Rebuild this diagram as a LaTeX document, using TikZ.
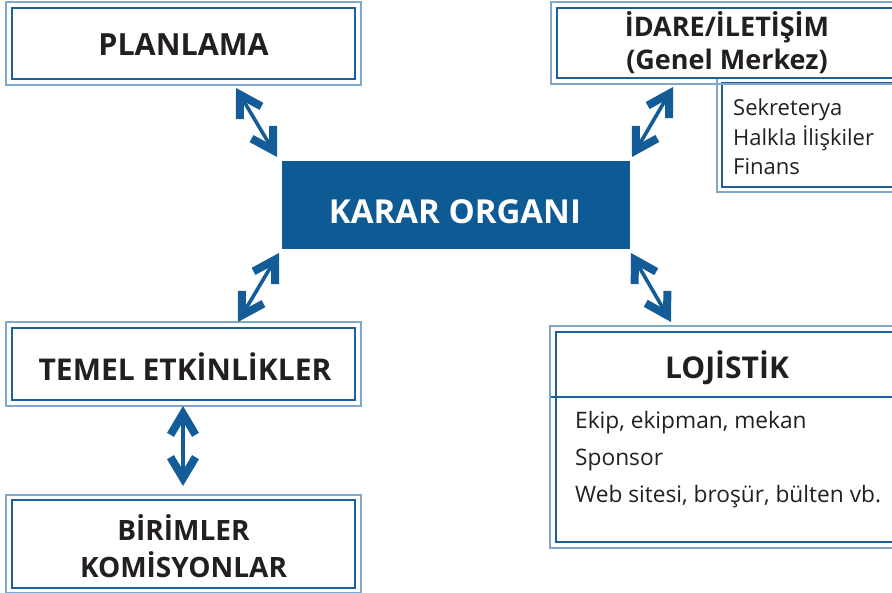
\documentclass[tikz,border=0pt]{standalone}
\usepackage{fontspec}
\setmainfont{Open Sans}
\usetikzlibrary{arrows.meta}
\definecolor{boxlight}{HTML}{7FA7CB}
\definecolor{boxdark}{HTML}{1F5F98}
\definecolor{karar}{HTML}{0E5A95}
\definecolor{arrowblue}{HTML}{135C97}
\definecolor{txt}{HTML}{231F20}
\tikzset{
  innerbox/.style={draw=boxdark, line width=1.3pt, rectangle, inner sep=0pt, text=txt},
  outerl/.style={draw=boxlight, line width=1.8pt},
  bigtxt/.style={font=\fontsize{31}{38}\selectfont\bfseries, text=txt, inner sep=0pt},
  midtxt/.style={font=\fontsize{27}{33}\selectfont\bfseries, text=txt, inner sep=0pt, align=center},
  smalltxt/.style={font=\fontsize{22}{29.5}\selectfont, text=txt, inner sep=0pt, align=left},
  dblarrow/.style={draw=arrowblue, line width=3.6pt,
    {Straight Barb[length=21pt,width=25pt,line width=8pt]}-{Straight Barb[length=21pt,width=25pt,line width=8pt]}}
}
\begin{document}
\begin{tikzpicture}[x=1pt,y=-1pt]
\useasboundingbox (0,0) rectangle (892,593);
\clip (0,0) rectangle (892,593);
% PLANLAMA
\node[innerbox, minimum width=343pt, minimum height=71pt] (plan) at (183.5,43.5) {};
\draw[outerl] ([shift={(-5,-5)}]plan.north west) rectangle ([shift={(5,5)}]plan.south east);
\node[bigtxt, font=\fontsize{30.5}{38}\selectfont\bfseries] (plant) at (183.5,45) {PLANLAMA};
% Sekreterya box
\node[innerbox, minimum width=190pt, minimum height=104pt] (sek) at (817,135) {};
\draw[outerl] ([shift={(-4,-5)}]sek.north west) rectangle ([shift={(4,4)}]sek.south east);
\node[smalltxt, anchor=north west] (sekt) at (733,99) {Sekreterya\\Halkla İlişkiler\\Finans};
% IDARE
\node[innerbox, fill=white, minimum width=360pt, minimum height=70pt] (idare) at (737,43) {};
\draw[outerl] ([shift={(-5,-5)}]idare.north west) rectangle ([shift={(5,5)}]idare.south east);
\node[midtxt] (idaret) at (727,43) {İDARE/İLETİŞİM\\(Genel Merkez)};
% KARAR ORGANI
\node[rectangle, fill=karar, minimum width=348pt, minimum height=88pt, inner sep=0pt] (karar) at (456,205) {};
\node[bigtxt, text=white, font=\fontsize{33}{38}\selectfont\bfseries] (karart) at (455,212) {KARAR ORGANI};
% TEMEL ETKINLIKLER
\node[innerbox, minimum width=343pt, minimum height=72pt] (temel) at (183.5,364) {};
\draw[outerl] ([shift={(-5,-5)}]temel.north west) rectangle ([shift={(5,5)}]temel.south east);
\node[bigtxt, font=\fontsize{30}{38}\selectfont\bfseries] (temelt) at (185,367) {TEMEL ETKİNLİKLER};
% BIRIMLER
\node[innerbox, minimum width=343pt, minimum height=88pt] (bir) at (183.5,544) {};
\draw[outerl] ([shift={(-5,-4)}]bir.north west) rectangle ([shift={(5,4)}]bir.south east);
\node[midtxt, font=\fontsize{28}{37}\selectfont\bfseries] (birt) at (183.5,546) {BİRİMLER\\KOMİSYONLAR};
% LOJISTIK
\node[innerbox, minimum width=360pt, minimum height=210pt] (loj) at (736,437) {};
\draw[outerl] ([shift={(-5,-5)}]loj.north west) rectangle ([shift={(5,5)}]loj.south east);
\coordinate (lojdl) at (551,397);
\coordinate (lojdr) at (920,397);
\draw[draw=boxdark, line width=1.3pt] (lojdl) -- (lojdr);
\node[bigtxt, font=\fontsize{30}{38}\selectfont\bfseries] (lojt) at (727,368) {LOJİSTİK};
\node[smalltxt, anchor=north west, font=\fontsize{22.7}{37}\selectfont] (lojitems) at (575,411) {Ekip, ekipman, mekan\\Sponsor\\Web sitesi, broşür, bülten vb.};
% arrows
\coordinate (a1s) at (236,88);  \coordinate (a1e) at (277,157);
\coordinate (a2s) at (279,253); \coordinate (a2e) at (238,322);
\coordinate (a3s) at (631,253); \coordinate (a3e) at (671,322);
\coordinate (a4s) at (673,87);  \coordinate (a4e) at (632,157);
\coordinate (a5s) at (183,406); \coordinate (a5e) at (183,486);
\draw[dblarrow] (a1s) -- (a1e);
\draw[dblarrow] (a2s) -- (a2e);
\draw[dblarrow] (a3s) -- (a3e);
\draw[dblarrow] (a4s) -- (a4e);
\draw[dblarrow] (a5s) -- (a5e);
\end{tikzpicture}
\end{document}
